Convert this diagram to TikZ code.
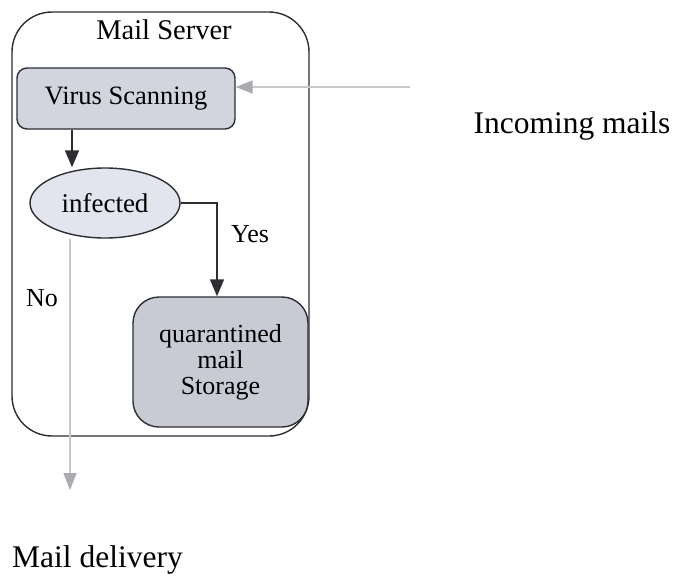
\documentclass[tikz,border=0pt]{standalone}
\usepackage{fontspec}
\setmainfont{Liberation Serif}
\usetikzlibrary{shapes.geometric,arrows.meta}
\definecolor{boxfill}{RGB}{210,212,222}
\definecolor{ellfill}{RGB}{226,228,238}
\definecolor{storefill}{RGB}{200,202,212}
\definecolor{edge}{RGB}{45,45,50}
\definecolor{faint}{RGB}{200,200,204}
\definecolor{fainthead}{RGB}{170,170,176}
\tikzset{
  lbl/.style={font=\fontsize{26}{26}\selectfont, inner sep=0pt},
  biglbl/.style={font=\fontsize{31.5}{31.5}\selectfont, inner sep=0pt},
  procbox/.style={draw=edge, line width=1.4pt, fill=boxfill, rounded corners=10pt,
    minimum width=218pt, minimum height=61pt, inner sep=0pt, font=\fontsize{26.5}{26.5}\selectfont},
  decision/.style={ellipse, draw=edge, line width=1.4pt, fill=ellfill,
    minimum width=150pt, minimum height=70pt, inner sep=0pt, font=\fontsize{27}{27}\selectfont},
  storebox/.style={draw=edge, line width=1.4pt, fill=storefill, rounded corners=26pt,
    minimum width=175pt, minimum height=130pt, inner sep=0pt, align=center,
    font=\fontsize{26}{26}\selectfont},
  serverbox/.style={draw=edge, line width=1.4pt, rounded corners=40pt,
    minimum width=297pt, minimum height=424pt, inner sep=0pt},
  flow/.style={draw=edge, line width=1.4pt, -{Triangle[length=17pt,width=14pt]}},
  faintflow/.style={draw=faint, line width=1.5pt, -{Triangle[length=17pt,width=13pt,fill=fainthead,color=fainthead]}},
}
\begin{document}
\begin{tikzpicture}[x=1pt,y=-1pt]
\useasboundingbox (0,0) rectangle (674,578);
\node[serverbox] (server) at (160.5,224) {};
\node[lbl, anchor=base, font=\fontsize{28.5}{28.5}\selectfont] (title) at (164,40) {Mail Server};
\node[procbox] (scan) at (126,98.5) {Virus Scanning};
\node[decision] (inf) at (105,203) {infected};
\node[storebox] (store) at (220.5,362) {quarantined\\mail\\Storage};
\node[biglbl, anchor=base] (incoming) at (572,133) {Incoming mails};
\node[biglbl, anchor=base west] (delivery) at (12,567) {Mail delivery};
\node[lbl, anchor=base] (yes) at (250,242) {Yes};
\node[lbl, anchor=base] (no) at (42,306) {No};
\coordinate (inStart) at (410,87);
\coordinate (outEnd) at (70,490);
\draw[flow] (scan.south -| 72,0) -- (inf.north -| 72,0);
\draw[flow] (inf.east) -| (store.north -| 217,0);
\draw[faintflow] (inf.south -| 70,0) -- (outEnd);
\draw[faintflow] (inStart) -- (scan.east |- 0,87);
\end{tikzpicture}
\end{document}
